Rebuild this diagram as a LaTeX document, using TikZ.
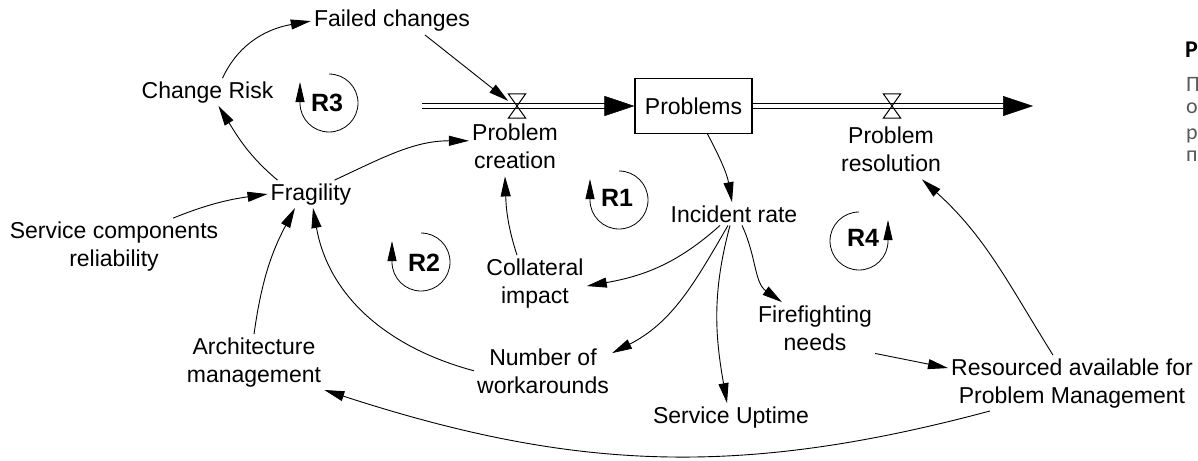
\documentclass[tikz,border=0pt]{standalone}
\usepackage{fontspec}
\setmainfont{Liberation Sans}
\newfontfamily\notefont{Carlito}
\usetikzlibrary{arrows.meta}
\definecolor{notegray}{RGB}{89,89,89}
\begin{document}
\begin{tikzpicture}[x=1pt,y=1pt,
  lbl/.style={font=\fontsize{23}{28}\selectfont, align=center, inner sep=3pt, anchor=base},
  link/.style={line width=0.9pt, -{Triangle[length=20pt,width=10pt]}},
  looparc/.style={line width=0.8pt, -{Triangle[length=20pt,width=9pt]}},
  looptag/.style={font=\fontsize{25}{28}\selectfont\bfseries, inner sep=0pt},
  flow/.style={double, double distance=3.8pt, line width=1.1pt, -{Triangle[length=30pt,width=20pt,line width=0.5pt]}},
  stockbox/.style={draw, line width=1.1pt, minimum width=117pt, minimum height=55pt, inner sep=0pt, font=\fontsize{23}{28}\selectfont},
  valve/.style={minimum width=17pt, minimum height=24pt, inner sep=0pt},
  note/.style={font=\notefont\fontsize{22}{26}\selectfont, text=notegray, anchor=base west, inner sep=0pt}
]
\fill[white] (0,0) rectangle (1198,-460);
\useasboundingbox (0,0) rectangle (1198,-460);

% variables (anchored at the baseline of their last line)
\node[lbl] (failed) at (392,-27) {Failed changes};
\node[lbl] (risk) at (207.5,-98) {Change Risk};
\node[lbl] (frag) at (311,-200) {Fragility};
\node[lbl] (scr) at (114,-266) {Service components\\reliability};
\node[stockbox] (box) at (693.5,-106) {Problems};
\node[lbl] (pc) at (515,-168) {Problem\\creation};
\node[lbl] (pr) at (891,-171) {Problem\\resolution};
\node[lbl] (inc) at (734,-222) {Incident rate};
\node[lbl] (coll) at (535,-303) {Collateral\\impact};
\node[lbl] (fire) at (815,-350) {Firefighting\\needs};
\node[lbl] (work) at (543,-393) {Number of\\workarounds};
\node[lbl] (arch) at (254,-382) {Architecture\\management};
\node[lbl] (upt) at (731,-423) {Service Uptime};
\node[lbl] (res) at (1072,-403) {Resourced available for\\Problem Management};

% flows through the stock
\coordinate (src) at (422,-106);
\coordinate (sink) at (1033,-106);
\node[valve] (v1) at (517,-106) {};
\node[valve] (v2) at (892,-106) {};
\draw[flow] (src) -- (box.west);
\draw[flow] (box.east) -- (sink);
\foreach \v in {v1,v2}
  \draw[line width=1pt] (\v.north west) -- (\v.north east) -- (\v.south west) -- (\v.south east) -- cycle;

% causal links
\draw[link] ([xshift=15pt]risk.north) to[out=65,in=190] (failed.west);
\draw[link] ([xshift=33pt]failed.south) -- (v1.150);
\draw[link] ([xshift=10pt]frag.north west) to[out=140,in=-58] ([xshift=11pt]risk.south);
\draw[link] ([xshift=-20pt]frag.north east) to[out=25,in=180] ([yshift=5pt]pc.west);
\draw[link] ([xshift=59pt]scr.north) to[out=22,in=188] (frag.west);
\draw[link] (arch.north) to[out=82,in=-118] ([xshift=-16pt]frag.south);
\draw[link] (work.west) to[out=165,in=-80] ([xshift=2pt]frag.south);
\draw[link] ([xshift=-82pt]res.south) to[out=195,in=-18] (arch.south east);
\draw[link] ([xshift=-19pt]res.north) to[out=122,in=-42] ([xshift=31pt,yshift=-5pt]pr.south);
\draw[link] (fire.south east) -- ([yshift=15pt]res.west);
\draw[link] ([xshift=8pt]inc.south) to[out=-65,in=145] ([xshift=-33pt]fire.north);
\draw[link] ([xshift=-14pt]inc.south) to[out=222,in=10] ([yshift=-3pt]coll.east);
\draw[link] ([xshift=-6pt]inc.south) to[out=240,in=27] ([yshift=-8pt]work.north east);
\draw[link] ([xshift=-4pt]inc.south) to[out=-105,in=100] ([xshift=-4pt]upt.north);
\draw[link] ([xshift=14pt]box.south) to[out=-62,in=100] ([xshift=-2pt]inc.north);
\draw[link] ([xshift=-18pt]coll.north) to[out=108,in=-88] ([xshift=-10pt,yshift=-5pt]pc.south);

% loop markers
\node[looptag] (r3) at (327,-103) {R3};
\draw[looparc] ([shift={(2pt,29pt)}]r3.center) arc[start angle=90,end angle=-180,radius=29pt] -- ++(0,21pt);
\node[looptag] (r1) at (617,-198) {R1};
\draw[looparc] ([shift={(2pt,27pt)}]r1.center) arc[start angle=90,end angle=-180,radius=29pt] -- ++(0,21pt);
\node[looptag] (r2) at (424,-263) {R2};
\draw[looparc] ([shift={(-3pt,30pt)}]r2.center) arc[start angle=90,end angle=-180,radius=29pt] -- ++(0,21pt);
\node[looptag] (r4) at (863,-238) {R4};
\draw[looparc] ([shift={(-4pt,26pt)}]r4.center) arc[start angle=90,end angle=360,radius=29pt] -- ++(0,21pt);

% text running in at the right edge
\node[note, text=black, font=\notefont\bfseries\fontsize{24}{26}\selectfont] (n0) at (1185,-58) {P};
\node[note] (n1) at (1186,-91) {П};
\node[note] (n2) at (1186,-113) {о};
\node[note] (n3) at (1186,-139) {р};
\node[note] (n4) at (1186,-161) {п};
\end{tikzpicture}
\end{document}
